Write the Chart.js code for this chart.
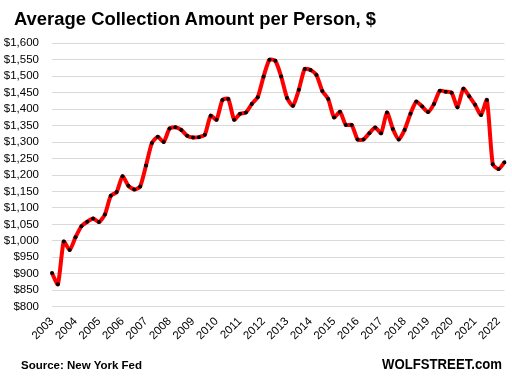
<!DOCTYPE html>
<html>
<head>
<meta charset="utf-8">
<script src="https://cdn.jsdelivr.net/npm/chart.js@4/dist/chart.umd.min.js"></script>
<style>
  html, body { margin: 0; padding: 0; background: #fff; }
  #wrap { position: relative; width: 512px; height: 379px; overflow: hidden; }
  #c { position: absolute; left: 0; top: 0; }
  .txt { position: absolute; white-space: nowrap; font-family: "Liberation Sans", Arial, sans-serif; font-weight: bold; color: #000; transform-origin: 0 0; }
</style>
</head>
<body>
<div id="wrap">
  <canvas id="c" width="512" height="379"></canvas>
  <div class="txt" id="title" data-w="362" style="left:14px; top:9.8px; font-size:18px; line-height:18px;">Average Collection Amount per Person, $</div>
  <div class="txt" id="src" data-w="121" style="left:21px; top:359.2px; font-size:11.6px; line-height:11.6px;">Source: New York Fed</div>
  <div class="txt" id="wolf" data-w="120" style="left:382px; top:356.5px; font-size:14px; line-height:14px;">WOLFSTREET.com</div>
</div>
<script>
// ---- data ----
const years = [2003,2004,2005,2006,2007,2008,2009,2010,2011,2012,2013,2014,2015,2016,2017,2018,2019,2020,2021,2022];
const quarters = ["Q1","Q2","Q3","Q4"];
const lastYearQuarters = 2; // data ends 2022 Q2
const categories = [];
years.forEach((y, i) => {
  const n = (i === years.length - 1) ? lastYearQuarters : 4;
  for (let q = 0; q < n; q++) categories.push(y + " " + quarters[q]);
});
const avgCollection = [
  902, 868, 998, 972, 1011, 1044, 1058, 1068, 1057, 1080, 1137, 1148,
  1196, 1167, 1156, 1165, 1229, 1297, 1316, 1300, 1341, 1345, 1337, 1319,
  1314, 1315, 1322, 1380, 1368, 1428, 1431, 1368, 1386, 1390, 1416, 1436,
  1499, 1550, 1547, 1499, 1434, 1410, 1459, 1522, 1519, 1504, 1455, 1431,
  1375, 1392, 1352, 1352, 1308, 1308, 1327, 1344, 1327, 1390, 1340, 1308,
  1337, 1386, 1423, 1408, 1391, 1416, 1456, 1453, 1450, 1406, 1462, 1439,
  1413, 1382, 1428, 1233, 1218, 1239
];
const yTickValues = [800,850,900,950,1000,1050,1100,1150,1200,1250,1300,1350,1400,1450,1500,1550,1600];

// ---- fit overlay texts to measured widths ----
document.querySelectorAll('.txt').forEach(el => {
  const w = el.getBoundingClientRect().width;
  const target = parseFloat(el.dataset.w);
  el.style.transform = 'scaleX(' + (target / w) + ')';
});

const tickFont = { family: '"Liberation Sans", Arial, sans-serif', size: 11.5 };

new Chart(document.getElementById('c'), {
  type: 'line',
  data: {
    labels: categories,
    datasets: [{
      data: avgCollection,
      borderColor: '#ff0000',
      borderWidth: 4,
      tension: 0.2,
      pointRadius: 2,
      pointHoverRadius: 2,
      pointBackgroundColor: '#000',
      pointBorderWidth: 0,
      fill: false
    }]
  },
  options: {
    responsive: false,
    animation: false,
    devicePixelRatio: 1,
    layout: { padding: { left: 0, right: 7.5, top: 43.3, bottom: 22.3 } },
    plugins: { legend: { display: false }, tooltip: { enabled: false }, title: { display: false } },
    scales: {
      x: {
        type: 'category',
        offset: false,
        grid: { display: false, drawTicks: false },
        border: { display: false },
        ticks: {
          autoSkip: false,
          maxRotation: 45,
          minRotation: 45,
          padding: 8,
          labelOffset: 0,
          color: '#000',
          font: tickFont,
          callback: function(val, idx) {
            const lab = categories[idx];
            return lab.endsWith('Q1') ? lab.slice(0, 4) : '';
          }
        },
        afterFit: function(s) { s.height = 50; s.paddingLeft = 0; s.paddingRight = 0; }
      },
      y: {
        min: 800,
        max: 1600,
        grid: { color: '#d9d9d9', lineWidth: 1, drawTicks: false },
        border: { display: false },
        afterBuildTicks: function(s) { s.ticks = yTickValues.map(v => ({ value: v })); },
        ticks: {
          autoSkip: false,
          padding: 13,
          color: '#000',
          font: tickFont,
          callback: function(v) { return '$' + Number(v).toLocaleString('en-US'); }
        },
        afterFit: function(s) { s.width = 52; s.paddingTop = 0; s.paddingBottom = 0; }
      }
    }
  }
});
</script>
</body>
</html>
